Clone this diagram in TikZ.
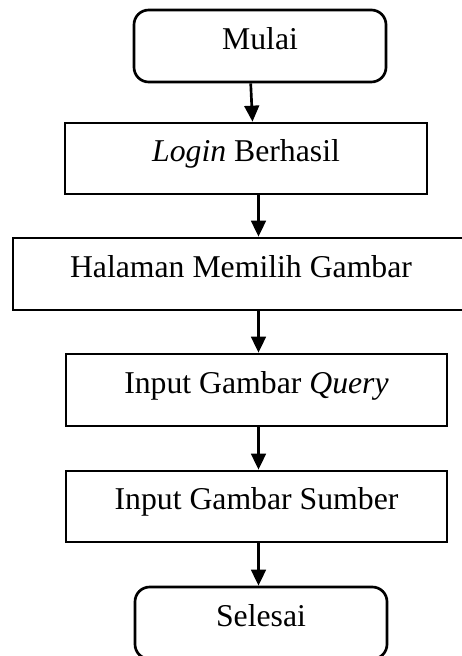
\documentclass[tikz,border=0pt]{standalone}
\usepackage{fontspec}
\setmainfont{Liberation Serif}
\usetikzlibrary{arrows.meta}
\begin{document}
\begin{tikzpicture}[x=0.75pt,y=-0.75pt,
  box/.style={draw=black,line width=2pt,fill=white,rectangle,inner sep=0pt,
    text height=0.74em,text depth=0.26em,
    font=\fontsize{23.8}{28}\selectfont},
  terminal/.style={box,rounded corners=11pt},
  arr/.style={draw=black,line width=2pt,-{Triangle[width=11pt,length=12pt]}}]
\useasboundingbox (0,0) rectangle (461,656);
\fill[white] (0,0) rectangle (461,656);

% process steps, top to bottom
\node[terminal,minimum width={252*0.75pt},minimum height={72*0.75pt}] (mulai) at (260,46) {Mulai};
\node[box,minimum width={362*0.75pt},minimum height={71*0.75pt}] (login) at (246,158.5) {\textit{Login} Berhasil};
\node[box,minimum width={456*0.75pt},minimum height={72*0.75pt}] (halaman) at (241,274) {Halaman Memilih Gambar};
\node[box,minimum width={381*0.75pt},minimum height={72*0.75pt}] (query) at (256.5,390) {Input Gambar \textit{Query}};
\node[box,minimum width={381*0.75pt},minimum height={71*0.75pt}] (sumber) at (256.5,506.5) {Input Gambar Sumber};
\node[terminal,minimum width={252*0.75pt},minimum height={72*0.75pt}] (selesai) at (261,623) {Selesai};

% common vertical line of the lower connectors
\coordinate (axis) at (258.5,0);

\draw[arr] ([xshift={-9.3*0.75pt}]mulai.south) -- ([xshift={6.5*0.75pt}]login.north);
\draw[arr] (login.south -| axis) -- (halaman.north -| axis);
\draw[arr] (halaman.south -| axis) -- (query.north -| axis);
\draw[arr] (query.south -| axis) -- (sumber.north -| axis);
\draw[arr] (sumber.south -| axis) -- (selesai.north -| axis);
\end{tikzpicture}
\end{document}
